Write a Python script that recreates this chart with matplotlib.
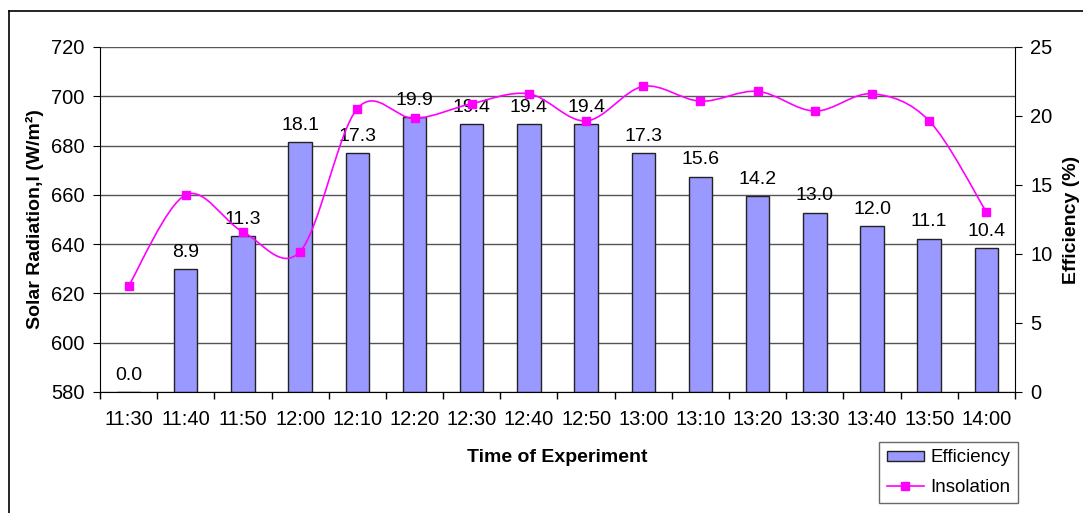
import numpy as np
import matplotlib
matplotlib.use("Agg")
import matplotlib.pyplot as plt
from matplotlib.path import Path
from matplotlib.patches import PathPatch, Patch
from matplotlib.lines import Line2D
from matplotlib.transforms import blended_transform_factory

plt.rcParams['font.family'] = ['Liberation Sans', 'DejaVu Sans']

# data
times = ['11:30', '11:40', '11:50', '12:00', '12:10', '12:20', '12:30', '12:40',
         '12:50', '13:00', '13:10', '13:20', '13:30', '13:40', '13:50', '14:00']
efficiency = [0.0, 8.9, 11.3, 18.1, 17.3, 19.9, 19.4, 19.4,
              19.4, 17.3, 15.6, 14.2, 13.0, 12.0, 11.1, 10.4]
insolation = [623, 660, 645, 637, 695, 691, 697, 701,
              690, 704, 698, 702, 694, 701, 690, 653]
rad_ticks = [580, 600, 620, 640, 660, 680, 700, 720]
eff_ticks = [0, 5, 10, 15, 20, 25]

bar_col = '#9999FF'
line_col = '#FF00FF'

fig = plt.figure(figsize=(10.83, 5.13), dpi=100)
ax = fig.add_axes([0.0923, 0.2359, 0.8449, 0.6725])   # insolation (left)
ax2 = ax.twinx()                                      # efficiency (right)
ax.set_zorder(ax2.get_zorder() + 1)
ax.patch.set_visible(False)

x = np.arange(len(times))

# gridlines of the left scale, drawn behind the bars
tr = blended_transform_factory(ax2.transAxes, ax.transData)
ax2.hlines(rad_ticks, 0, 1, transform=tr, color='#555555', lw=1, zorder=0)

bars = ax2.bar(x, efficiency, width=0.41, color=bar_col, edgecolor='#222222',
               linewidth=1, zorder=2)
for xi, v in zip(x, efficiency):
    ax2.annotate('%.1f' % v, (xi, v), xytext=(0, 6), textcoords='offset points',
                 ha='center', va='bottom', fontsize=14, zorder=3)

# smooth line like Excel (bezier through the points)
px = list(x)
py = list(insolation)
verts = [(px[0], py[0])]
codes = [Path.MOVETO]
n = len(px)
for i in range(n - 1):
    p0 = max(i - 1, 0)
    p3 = min(i + 2, n - 1)
    c1 = (px[i] + (px[i + 1] - px[p0]) / 6.0, py[i] + (py[i + 1] - py[p0]) / 6.0)
    c2 = (px[i + 1] - (px[p3] - px[i]) / 6.0, py[i + 1] - (py[p3] - py[i]) / 6.0)
    verts += [c1, c2, (px[i + 1], py[i + 1])]
    codes += [Path.CURVE4, Path.CURVE4, Path.CURVE4]
ax.add_patch(PathPatch(Path(verts, codes), facecolor='none', edgecolor=line_col,
                       lw=1.2, zorder=4))
ax.plot(x, insolation, ls='none', marker='s', ms=6, color=line_col, zorder=5)

# axes setup
ax.set_xlim(-0.5, len(times) - 0.5)
ax.set_ylim(580, 720)
ax2.set_ylim(0, 25)
ax.set_yticks(rad_ticks)
ax2.set_yticks(eff_ticks)
ax.set_xticks(x)
ax.set_xticklabels(times, fontsize=14.5)
ax.set_xticks(np.arange(-0.5, len(times), 1.0), minor=True)
ax.tick_params(axis='x', which='major', length=0, pad=13)
ax.tick_params(axis='x', which='minor', length=5, direction='out', width=1)
ax.tick_params(axis='y', labelsize=14.5, length=5, direction='out', pad=6)
ax2.tick_params(axis='y', labelsize=14.5, length=5, direction='out', pad=6)

for s in ['top', 'right']:
    ax.spines[s].set_visible(False)
for s in ['top', 'left', 'bottom']:
    ax2.spines[s].set_visible(False)

ax.set_ylabel('Solar Radiation,I (W/m²)', fontsize=14, fontweight='bold')
ax.yaxis.set_label_coords(-0.061, 0.5)
ax2.set_ylabel('Efficiency (%)', fontsize=14, fontweight='bold')
ax2.yaxis.set_label_coords(1.053, 0.5)
ax.set_xlabel('Time of Experiment', fontsize=14, fontweight='bold')
ax.xaxis.set_label_coords(0.5, -0.165)

handles = [Patch(facecolor=bar_col, edgecolor='#222222', lw=1),
           Line2D([], [], color=line_col, marker='s', ms=6, lw=1.2)]
leg = fig.legend(handles, ['Efficiency', 'Insolation'], loc='upper left',
                 bbox_to_anchor=(879 / 1083, 1 - 442 / 513), fontsize=13.5,
                 frameon=True, fancybox=False, handlelength=2.0, handleheight=0.5,
                 borderpad=0.4, labelspacing=0.65, handletextpad=0.35,
                 borderaxespad=0)
leg.get_frame().set_edgecolor('#444444')
leg.get_frame().set_linewidth(1)

# chart area border (left and top visible)
fig.add_artist(Line2D([0.0083, 0.0083], [0.9786, -0.1], color='black', lw=1.2,
                      transform=fig.transFigure))
fig.add_artist(Line2D([0.0083, 1.1], [0.9786, 0.9786], color='black', lw=1.2,
                      transform=fig.transFigure))

fig.savefig('out.png', dpi=100)
